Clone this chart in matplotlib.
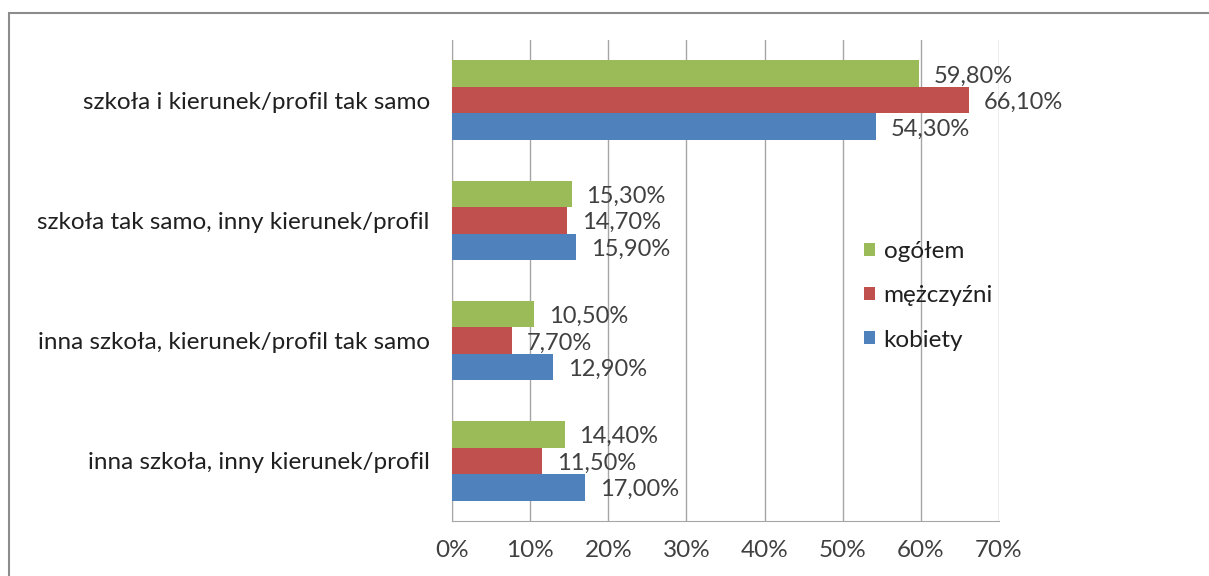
import numpy as np
import matplotlib.pyplot as plt
from matplotlib.patches import Rectangle

kategorie = ["szkoła i kierunek/profil tak samo",
             "szkoła tak samo, inny kierunek/profil",
             "inna szkoła, kierunek/profil tak samo",
             "inna szkoła, inny kierunek/profil"]
kobiety = [54.3, 15.9, 12.9, 17.0]
mezczyzni = [66.1, 14.7, 7.7, 11.5]
ogolem = [59.8, 15.3, 10.5, 14.4]
x_ticks = [0, 10, 20, 30, 40, 50, 60, 70]

plt.rcParams['font.family'] = ['Lato', 'DejaVu Sans']
tekst_kolor = '#404040'
fs = 17.5

fig = plt.figure(figsize=(12.09, 5.76), dpi=100)
ax = fig.add_axes([0.3739, 0.0955, 0.4524, 0.835])

# ramka wokol wykresu
fig.patches.append(Rectangle((9 / 1209, -0.1), 1.2, 1 - 13 / 576 + 0.1,
                             transform=fig.transFigure, fill=False,
                             edgecolor='#8c8c8c', linewidth=1.5))

y = np.arange(len(kategorie))
h = 0.22
serie = [(ogolem, '#9BBB59', 'ogółem', -h),
         (mezczyzni, '#C0504D', 'mężczyźni', 0),
         (kobiety, '#4F81BD', 'kobiety', h)]
for wartosci, kolor, nazwa, off in serie:
    bars = ax.barh(y + off, wartosci, height=h, color=kolor, label=nazwa, zorder=3)
    for b, v in zip(bars, wartosci):
        ax.text(v + 1.9, b.get_y() + b.get_height() / 2 + 0.02,
                ("%.2f%%" % v).replace('.', ','), va='center', ha='left',
                fontsize=fs - 0.5, color=tekst_kolor)

ax.set_ylim(3.5, -0.5)
ax.set_xlim(0, 70)
ax.set_xticks(x_ticks)
ax.set_xticklabels(["%d%%" % t for t in x_ticks], fontsize=fs, color=tekst_kolor)
ax.set_yticks(y)
ax.set_yticklabels(kategorie, fontsize=fs, color='#202020')
ax.tick_params(axis='x', length=0, pad=14)
ax.tick_params(axis='y', length=0, pad=16)
ax.grid(True, axis='x', color='#a6a6a6', linewidth=1, zorder=0)
for s in ['top', 'right']:
    ax.spines[s].set_visible(False)
for s in ['left', 'bottom']:
    ax.spines[s].set_color('#a6a6a6')

handles, labels = ax.get_legend_handles_labels()
leg = fig.legend(handles, labels, loc='center left',
                 bbox_to_anchor=(852 / 1209, 1 - 296 / 576),
                 frameon=False, fontsize=fs, handlelength=0.45, handleheight=0.45,
                 handletextpad=0.35, labelspacing=0.95, borderpad=0)
for t in leg.get_texts():
    t.set_color('#202020')

fig.savefig("out.png", dpi=100)
